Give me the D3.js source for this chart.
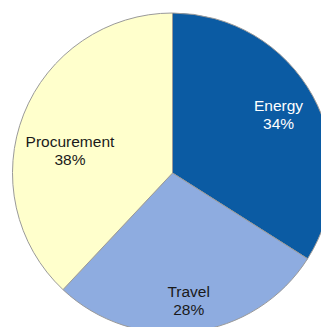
<!DOCTYPE html>
<html>
<head>
<meta charset="utf-8">
<script src="https://cdn.jsdelivr.net/npm/d3@7"></script>
<style>
  html, body { margin: 0; padding: 0; background: #ffffff; }
  svg { display: block; }
</style>
</head>
<body>
<svg id="chart" width="321" height="327"></svg>
<script>
// Emissions share by source
const categories = ["Energy", "Travel", "Procurement"];
const shares = [34, 28, 38];
const colors = ["#0B5BA3", "#8EACE0", "#FFFFCC"];
const labelColors = ["#ffffff", "#1a1a1a", "#1a1a1a"];

const width = 321, height = 327;
const cx = 172.5, cy = 173, radius = 160;

// label placement inside each slice: radial distance and small nudge
const labelLayout = {
  Energy:      { r: 121, dx: 0,  dy: 0 },
  Travel:      { r: 129, dx: 0,  dy: 0 },
  Procurement: { r: 105, dx: 0,  dy: 0, angle: -77.6 }
};

const data = categories.map((c, i) => ({ name: c, value: shares[i], color: colors[i], text: labelColors[i] }));

const svg = d3.select("#chart");
const g = svg.append("g").attr("transform", `translate(${cx},${cy})`);

const pie = d3.pie().value(d => d.value).sort(null);
const arc = d3.arc().innerRadius(0).outerRadius(radius);
const arcs = pie(data);

g.selectAll("path.slice")
  .data(arcs)
  .join("path")
  .attr("class", "slice")
  .attr("d", arc)
  .attr("fill", d => d.data.color)
  .attr("stroke", "#9a9a9a")
  .attr("stroke-width", 1);

const labels = g.selectAll("text.label")
  .data(arcs)
  .join("text")
  .attr("class", "label")
  .attr("text-anchor", "middle")
  .attr("font-family", "'Liberation Sans', Arial, sans-serif")
  .attr("font-size", 15.5)
  .attr("fill", d => d.data.text)
  .attr("transform", d => {
    const lay = labelLayout[d.data.name];
    const mid = lay.angle !== undefined ? lay.angle * Math.PI / 180 : (d.startAngle + d.endAngle) / 2;
    const x = Math.sin(mid) * lay.r + lay.dx;
    const y = -Math.cos(mid) * lay.r + lay.dy;
    return `translate(${x},${y})`;
  });

labels.append("tspan")
  .attr("x", 0)
  .attr("y", -3.5)
  .text(d => d.data.name);

labels.append("tspan")
  .attr("x", 0)
  .attr("y", 14.5)
  .text(d => d.data.value + "%");
</script>
</body>
</html>
